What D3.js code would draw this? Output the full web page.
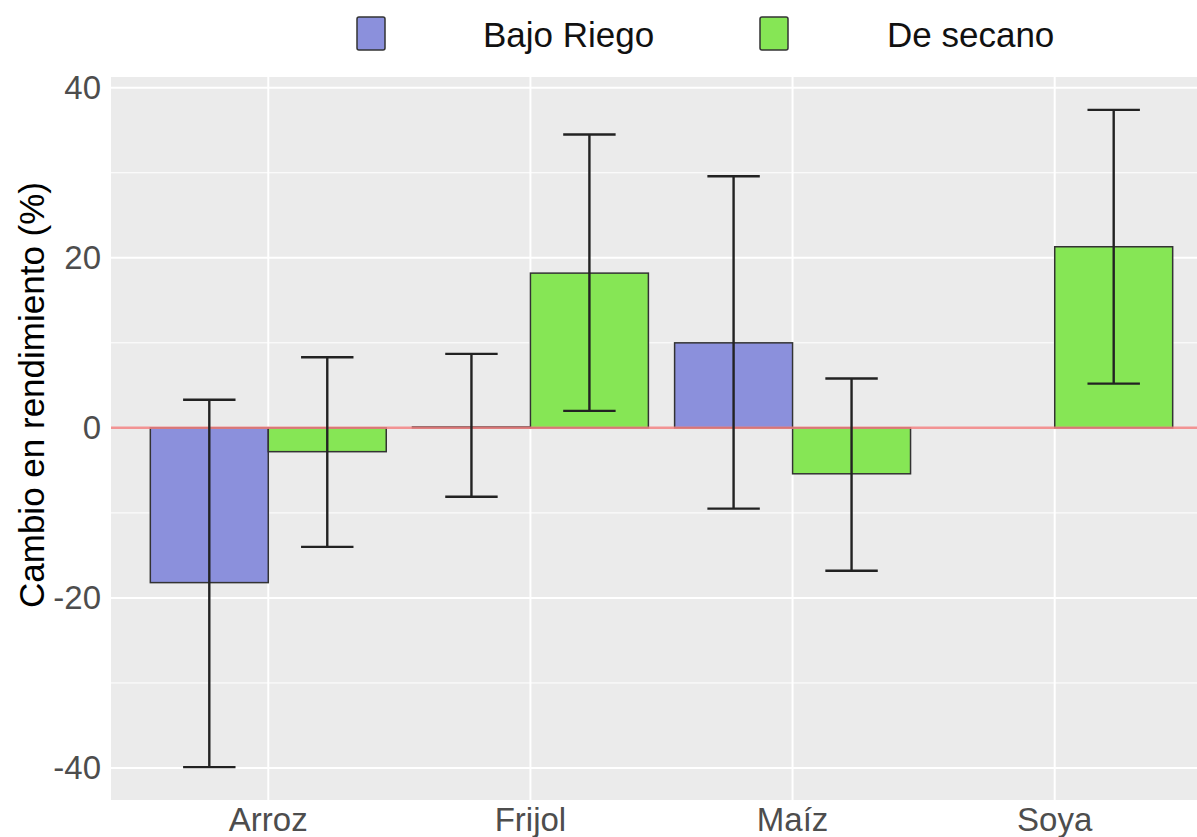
<!DOCTYPE html>
<html>
<head>
<meta charset="utf-8">
<script src="https://cdn.jsdelivr.net/npm/d3@7"></script>
<style>
  body { margin: 0; background: #fff; }
  svg { display: block; font-family: "Liberation Sans", Arial, sans-serif; }
</style>
</head>
<body>
<div id="chart"></div>
<script>
// Data
var categories = ["Arroz", "Frijol", "Maíz", "Soya"];
var series = ["Bajo Riego", "De secano"];
var bajoRiego = [-18.2, 0.1, 10.0, null];
var bajoLow = [-39.9, -8.1, -9.5, null];
var bajoHigh = [3.3, 8.7, 29.6, null];
var secano = [-2.8, 18.2, -5.4, 21.3];
var secanoLow = [-14.0, 2.0, -16.8, 5.2];
var secanoHigh = [8.3, 34.5, 5.8, 37.4];
var yTicks = [-40, -20, 0, 20, 40];
var yMinor = [-30, -10, 10, 30];

var colors = { "Bajo Riego": "#8b90dc", "De secano": "#86e655" };

// long form rows
var rows = [];
categories.forEach(function(c, i) {
    if (bajoRiego[i] !== null)
        rows.push({ cat: c, serie: "Bajo Riego", value: bajoRiego[i], lo: bajoLow[i], hi: bajoHigh[i] });
    rows.push({ cat: c, serie: "De secano", value: secano[i], lo: secanoLow[i], hi: secanoHigh[i] });
});

var width = 1197, height = 837;
var panel = { left: 111, right: 1212, top: 77, bottom: 800 };

var svg = d3.select("#chart").append("svg")
    .attr("width", width)
    .attr("height", height);

// scales (ggplot style expansion)
var x = d3.scaleBand()
    .domain(categories)
    .range([panel.left, panel.right])
    .paddingInner(0)
    .paddingOuter(0.1);

var step = x.step();
var xs = d3.scaleBand()
    .domain(series)
    .range([-0.45 * step, 0.45 * step]);

var lo = d3.min(rows, d => d.lo), hi = d3.max(rows, d => d.hi);
var pad = (hi - lo) * 0.05;
var y = d3.scaleLinear()
    .domain([lo - pad, hi + pad])
    .range([panel.bottom, panel.top]);

// panel background
svg.append("rect")
    .attr("x", panel.left)
    .attr("y", panel.top)
    .attr("width", panel.right - panel.left)
    .attr("height", panel.bottom - panel.top)
    .attr("fill", "#ebebeb");

// grid
svg.selectAll(".minor")
    .data(yMinor)
    .enter().append("line")
    .attr("x1", panel.left).attr("x2", panel.right)
    .attr("y1", d => y(d)).attr("y2", d => y(d))
    .attr("stroke", "#fff").attr("stroke-width", 1);

svg.selectAll(".major")
    .data(yTicks)
    .enter().append("line")
    .attr("x1", panel.left).attr("x2", panel.right)
    .attr("y1", d => y(d)).attr("y2", d => y(d))
    .attr("stroke", "#fff").attr("stroke-width", 2);

svg.selectAll(".vgrid")
    .data(categories)
    .enter().append("line")
    .attr("x1", d => x(d) + step / 2).attr("x2", d => x(d) + step / 2)
    .attr("y1", panel.top).attr("y2", panel.bottom)
    .attr("stroke", "#fff").attr("stroke-width", 2);

// bars
svg.selectAll(".bar")
    .data(rows)
    .enter().append("rect")
    .attr("x", d => x(d.cat) + step / 2 + xs(d.serie))
    .attr("y", d => y(Math.max(0, d.value)))
    .attr("width", xs.bandwidth())
    .attr("height", d => Math.abs(y(d.value) - y(0)))
    .attr("fill", d => colors[d.serie])
    .attr("stroke", "#333")
    .attr("stroke-width", 1.5);

// zero reference line
svg.append("line")
    .attr("x1", panel.left).attr("x2", panel.right)
    .attr("y1", y(0)).attr("y2", y(0))
    .attr("stroke", "#f08080")
    .attr("stroke-opacity", 0.85)
    .attr("stroke-width", 2.5);

// error bars
var capW = 0.2 * step;
var eb = svg.selectAll(".err")
    .data(rows)
    .enter().append("g")
    .attr("transform", d => `translate(${x(d.cat) + step / 2 + xs(d.serie) + xs.bandwidth() / 2},0)`)
    .attr("stroke", "#222")
    .attr("stroke-width", 2.4);

eb.append("line")
    .attr("y1", d => y(d.lo)).attr("y2", d => y(d.hi));
eb.append("line")
    .attr("x1", -capW / 2).attr("x2", capW / 2)
    .attr("y1", d => y(d.hi)).attr("y2", d => y(d.hi));
eb.append("line")
    .attr("x1", -capW / 2).attr("x2", capW / 2)
    .attr("y1", d => y(d.lo)).attr("y2", d => y(d.lo));

// axes
var yAxis = svg.append("g")
    .attr("transform", `translate(${panel.left},0)`)
    .call(d3.axisLeft(y).tickValues(yTicks).tickFormat(d => String(d)).tickSize(0).tickPadding(10));
yAxis.select(".domain").remove();
yAxis.selectAll("text")
    .style("font-size", "33px")
    .style("font-family", "'Liberation Sans', Arial, sans-serif")
    .attr("fill", "#4d4d4d");

var xAxis = svg.append("g")
    .attr("transform", `translate(0,${panel.bottom})`)
    .call(d3.axisBottom(x).tickSize(0).tickPadding(8));
xAxis.select(".domain").remove();
xAxis.selectAll("text")
    .style("font-size", "33px")
    .style("font-family", "'Liberation Sans', Arial, sans-serif")
    .attr("fill", "#4d4d4d");

// y axis title
svg.append("text")
    .attr("transform", "translate(44,395) rotate(-90)")
    .attr("text-anchor", "middle")
    .style("font-size", "35px")
    .attr("fill", "#000")
    .text("Cambio en rendimiento (%)");

// legend
var legendPos = [{ key: 357, label: 483 }, { key: 760, label: 887 }];
var lg = svg.selectAll(".legend")
    .data(series)
    .enter().append("g");

lg.append("rect")
    .attr("x", (d, i) => legendPos[i].key)
    .attr("y", 17)
    .attr("width", 28)
    .attr("height", 33)
    .attr("rx", 2)
    .attr("fill", d => colors[d])
    .attr("stroke", "#333")
    .attr("stroke-width", 1.5);

lg.append("text")
    .attr("x", (d, i) => legendPos[i].label)
    .attr("y", 47)
    .style("font-size", "35px")
    .attr("fill", "#111")
    .text(d => d);
</script>
</body>
</html>
